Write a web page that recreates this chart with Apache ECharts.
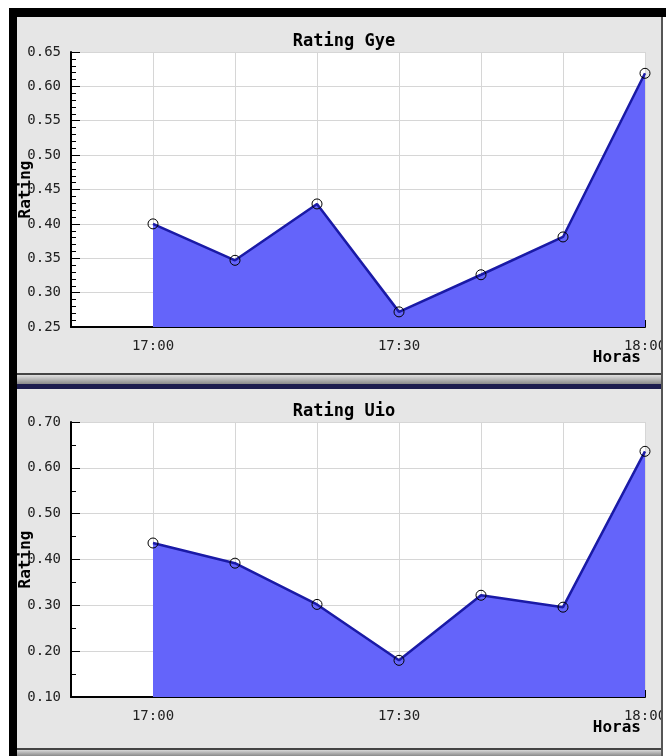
<!DOCTYPE html>
<html>
<head>
<meta charset="utf-8">
<script src="https://cdn.jsdelivr.net/npm/echarts@6/dist/echarts.min.js"></script>
<style>
  html, body { margin: 0; padding: 0; background: #fff; width: 666px; height: 756px; overflow: hidden; }
  #topbar { position: absolute; left: 9px; top: 8px; width: 657px; height: 9px; background: #000; }
  #leftbar { position: absolute; left: 9px; top: 8px; width: 8px; height: 748px; background: #000; }
  #rightline { position: absolute; left: 661px; top: 17px; width: 2px; height: 739px; background: #555; }
  #chart { position: absolute; left: 17px; top: 17px; width: 644px; height: 739px; background: #e6e6e6; }
</style>
</head>
<body>
<div id="topbar"></div>
<div id="leftbar"></div>
<div id="rightline"></div>
<div id="chart"></div>
<script>
// ---- data ----
const times = ["17:00", "17:10", "17:20", "17:30", "17:40", "17:50", "18:00"];
const ratingGye = [0.400, 0.347, 0.429, 0.272, 0.326, 0.381, 0.619];
const ratingUio = [0.436, 0.392, 0.302, 0.180, 0.322, 0.296, 0.636];
const titles = ["Rating Gye", "Rating Uio"];
const yNames = ["Rating", "Rating"];
const xName = "Horas";

const toMin = t => { const p = t.split(":"); return (+p[0]) * 60 + (+p[1]); };
const fmtTime = v => { const h = Math.floor(v / 60), m = v % 60; return h + ":" + (m < 10 ? "0" : "") + m; };

const FONT = "DejaVu Sans Mono";
const chart = echarts.init(document.getElementById("chart"));

function xAxisDef(gi) {
  return {
    type: "value", gridIndex: gi, min: 1010, max: 1080, interval: 10,
    name: xName, nameLocation: "end", nameGap: -4, nameMoveOverlap: false,
    nameTextStyle: { fontFamily: FONT, fontWeight: "bold", fontSize: 16, color: "#000", align: "right", verticalAlign: "top", padding: [23, 0, 0, 0] },
    axisLine: { show: true, onZero: false, lineStyle: { color: "#000", width: 2 } },
    axisTick: { show: true, inside: true, length: 7, lineStyle: { color: "#000", width: 1 } },
    axisLabel: { fontFamily: FONT, fontSize: 14, color: "#222", margin: 12, showMinLabel: true, showMaxLabel: true, hideOverlap: false,
      formatter: v => (v % 30 === 0 ? fmtTime(v) : "") },
    splitLine: { show: true, lineStyle: { color: "#d6d6d6", width: 1 } }
  };
}
function yAxisDef(gi, min, max, interval, minorSplit) {
  return {
    type: "value", gridIndex: gi, min: min, max: max, interval: interval,
    name: yNames[gi], nameLocation: "middle", nameGap: 37, nameRotate: 90, nameMoveOverlap: false,
    nameTextStyle: { fontFamily: FONT, fontWeight: "bold", fontSize: 16, color: "#000" },
    axisLine: { show: true, lineStyle: { color: "#000", width: 2 } },
    axisTick: { show: true, inside: true, length: 9, lineStyle: { color: "#000", width: 1 } },
    minorTick: { show: true, splitNumber: minorSplit, length: 5, lineStyle: { color: "#000", width: 1 } },
    axisLabel: { fontFamily: FONT, fontSize: 14, color: "#222", margin: 10, formatter: v => v.toFixed(2) },
    splitLine: { show: true, lineStyle: { color: "#d6d6d6", width: 1 } }
  };
}
function seriesDef(gi, vals) {
  return {
    type: "line", xAxisIndex: gi, yAxisIndex: gi,
    data: times.map((t, i) => [toMin(t), vals[i]]),
    symbol: "circle", symbolSize: 10,
    itemStyle: { color: "rgba(255,255,255,0)", borderColor: "#000", borderWidth: 1 },
    lineStyle: { color: "#1a1aa6", width: 2.5 },
    areaStyle: { color: "#6464fa", opacity: 1, origin: "start" },
    emphasis: { disabled: true },
    z: 3
  };
}

chart.setOption({
  animation: false,
  backgroundColor: "#e6e6e6",
  title: [
    { text: titles[0], left: 322, top: 11, textAlign: "center", textStyle: { fontFamily: FONT, fontWeight: "bold", fontSize: 17, color: "#000" } },
    { text: titles[1], left: 322, top: 381, textAlign: "center", textStyle: { fontFamily: FONT, fontWeight: "bold", fontSize: 17, color: "#000" } }
  ],
  grid: [
    { left: 54, top: 35, width: 574, height: 275, show: true, backgroundColor: "#fff", borderWidth: 0, containLabel: false, outerBoundsMode: "none" },
    { left: 54, top: 405, width: 574, height: 275, show: true, backgroundColor: "#fff", borderWidth: 0, containLabel: false, outerBoundsMode: "none" }
  ],
  xAxis: [xAxisDef(0), xAxisDef(1)],
  yAxis: [yAxisDef(0, 0.25, 0.65, 0.05, 5), yAxisDef(1, 0.1, 0.7, 0.1, 2)],
  series: [seriesDef(0, ratingGye), seriesDef(1, ratingUio)],
  graphic: [
    { type: "rect", shape: { x: 0, y: 356, width: 644, height: 2 }, style: { fill: "#444" } },
    { type: "rect", shape: { x: 0, y: 358, width: 644, height: 9 },
      style: { fill: new echarts.graphic.LinearGradient(0, 0, 0, 1, [{ offset: 0, color: "#e0e0e0" }, { offset: 1, color: "#8a8a8a" }]) } },
    { type: "rect", shape: { x: 0, y: 367, width: 644, height: 5 }, style: { fill: "#1c1c4e" } },
    { type: "rect", shape: { x: 0, y: 731, width: 644, height: 2 }, style: { fill: "#444" } },
    { type: "rect", shape: { x: 0, y: 733, width: 644, height: 6 },
      style: { fill: new echarts.graphic.LinearGradient(0, 0, 0, 1, [{ offset: 0, color: "#d8d8d8" }, { offset: 1, color: "#8a8a8a" }]) } }
  ]
});
</script>
</body>
</html>
